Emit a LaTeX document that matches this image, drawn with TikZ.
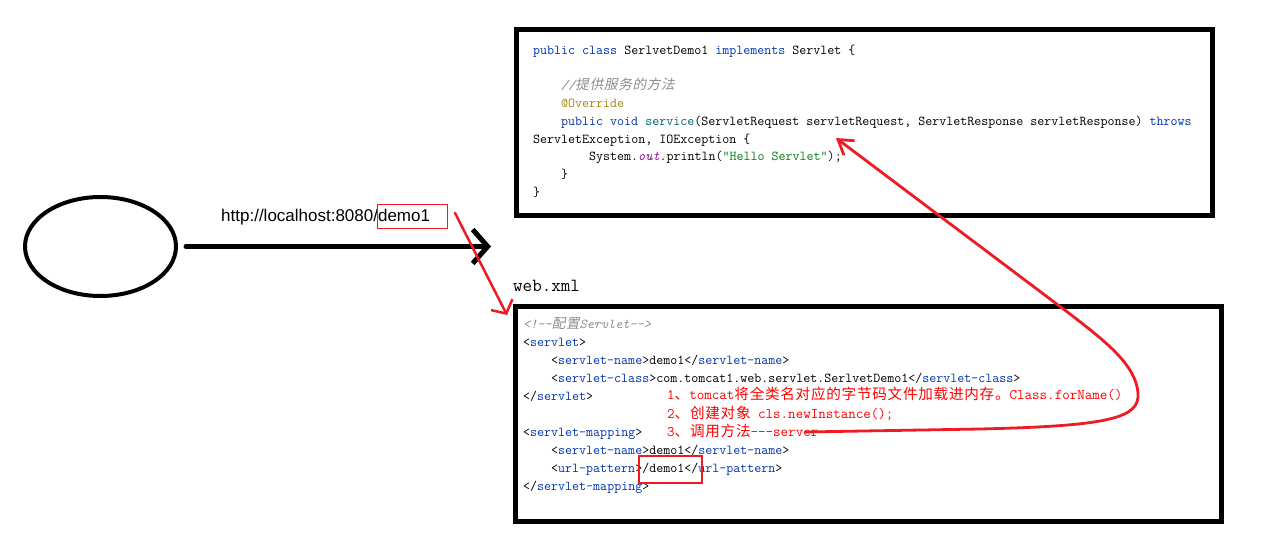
\documentclass[tikz,border=0pt]{standalone}
\usepackage{fontspec}
\usetikzlibrary{shapes.geometric,arrows.meta}
\newfontfamily\cjk{Noto Sans CJK SC}[LetterSpace=5]
\newfontfamily\cjki{Noto Sans CJK SC}[LetterSpace=5,FakeSlant=0.2]
\newfontfamily\urlfont{Liberation Sans}
\definecolor{kwblue}{RGB}{0,51,179}
\definecolor{fnteal}{RGB}{0,98,122}
\definecolor{annol}{RGB}{158,136,13}
\definecolor{purp}{RGB}{135,16,148}
\definecolor{strgreen}{RGB}{6,125,23}
\definecolor{cmtgray}{RGB}{140,140,140}
\definecolor{paintred}{RGB}{237,28,36}
\definecolor{textred}{RGB}{255,0,0}
\newcommand\cj[1]{{\cjk #1}}
\newcommand\jkw[1]{\textcolor{kwblue}{#1}}
\newcommand\xtag[1]{<\textcolor{kwblue}{#1}>}
\newcommand\xend[1]{</\textcolor{kwblue}{#1}>}
\begin{document}
\begin{tikzpicture}[x=1pt,y=-1pt,
  code/.style={anchor=base west, inner sep=0pt, font=\ttfamily\fontsize{13.6}{16}\selectfont},
  anno/.style={anchor=base west, inner sep=0pt, text=textred, font=\ttfamily\fontsize{14.6}{17}\selectfont},
  frame/.style={draw=black, line width=5pt, rectangle, inner sep=0pt},
  redline/.style={draw=paintred, line width=2.5pt, line cap=round, line join=round},
  redbox/.style={draw=paintred, rectangle, inner sep=0pt}]
\path[use as bounding box] (0,0) rectangle (1275,546);

% client ellipse and request arrow
\node[ellipse, draw, line width=4pt, minimum width=151pt, minimum height=99pt, inner sep=0pt] (client) at (100.5,246.5) {};
\coordinate (tip) at (491,246.5);
\draw[line width=5pt, line cap=round, line join=round, shorten <=8pt,
      -{Straight Barb[length=15pt,width=34pt]}] (client.east) -- (tip);

% URL
\node[anchor=base west, inner sep=0pt, font=\urlfont\fontsize{17}{20}\selectfont] (url) at (221,221) {http://localhost:8080/demo1};
\node[redbox, line width=1pt, minimum width=70pt, minimum height=24pt] (urlbox) at (412,216) {};
\coordinate (ra) at (455,213);
\coordinate (rb) at (507,315);
\draw[redline, -{Straight Barb[length=10pt,width=24pt]}] (ra) -- (rb);

% web.xml label
\node[anchor=base west, inner sep=0pt, font=\ttfamily\fontsize{18.5}{20}\selectfont] (webxml) at (513,291.7) {web.xml};

% frames
\node[frame, minimum width=695.5pt, minimum height=186pt] (servletbox) at (864.25,122) {};
\node[frame, minimum width=705.5pt, minimum height=215pt] (xmlbox) at (868.25,414) {};

% Java code
\node[code] (t1) at (533,54) {\jkw{public class} SerlvetDemo1 \jkw{implements} Servlet \{};
\node[code] (t2) at (561,89.6) {{\color{cmtgray}\itshape //{\cjki 提供服务的方法}}};
\node[code] (t3) at (561,107.4) {\textcolor{annol}{@Override}};
\node[code] (t4) at (561,125.2) {\jkw{public void} \textcolor{fnteal}{service}(ServletRequest servletRequest, ServletResponse servletResponse) \jkw{throws}};
\node[code] (t5) at (533,143) {ServletException, IOException \{};
\node[code] (t6) at (589,160.8) {System.\textcolor{purp}{\itshape out}.println(\textcolor{strgreen}{"Hello Servlet"});};
\node[code] (t7) at (561,178.6) {\}};
\node[code] (t8) at (533,196.4) {\}};

% XML code
\node[code] (x1) at (523,328) {{\color{cmtgray}\itshape <!-{}-{\cjki 配置}Servlet-{}->}};
\node[code] (x2) at (523,346) {\xtag{servlet}};
\node[code] (x3) at (551,364) {\xtag{servlet-name}demo1\xend{servlet-name}};
\node[code] (x4) at (551,382) {\xtag{servlet-class}com.tomcat1.web.servlet.SerlvetDemo1\xend{servlet-class}};
\node[code] (x5) at (523,400) {\xend{servlet}};
\node[code] (x6) at (523,436) {\xtag{servlet-mapping}};
\node[code] (x7) at (551,454) {\xtag{servlet-name}demo1\xend{servlet-name}};
\node[code] (x8) at (551,472) {\xtag{url-pattern}/demo1\xend{url-pattern}};
\node[code] (x9) at (523,490) {\xend{servlet-mapping}};

\node[redbox, line width=2.5pt, minimum width=63pt, minimum height=27pt] (patbox) at (670.5,469.5) {};

% annotations
\node[anno] (r1) at (667,399) {1\cj{、}tomcat\cj{将全类名对应的字节码文件加载进内存。}Class.forName()};
\node[anno] (r2) at (667,418) {2\cj{、创建对象} cls.newInstance();};
\node[anno] (r3) at (667,436) {3\cj{、调用方法}-{}-{}-server};

% loop back arrow
\coordinate (cs) at (805,432);
\coordinate (ce) at (836,138);
\draw[redline, line width=2.8pt, -{Straight Barb[length=14pt,width=18pt]}]
  (cs) -- (980,429) .. controls (1110,426) and (1140,418) .. (1138,393)
  .. controls (1136,365) and (1105,341) .. (1070,314) -- (ce);
\end{tikzpicture}
\end{document}
